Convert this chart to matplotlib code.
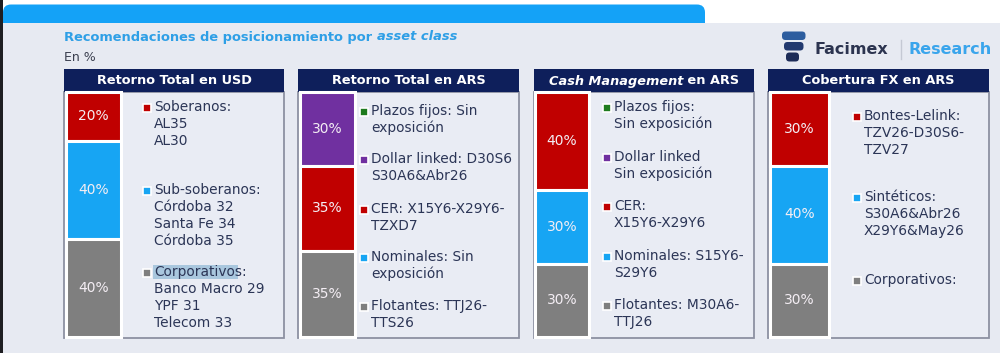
import matplotlib
matplotlib.use("Agg")
import matplotlib.pyplot as plt
from matplotlib.patches import Rectangle, FancyBboxPatch

# ---------------- data ----------------
panel_titles = ["Retorno Total en USD", "Retorno Total en ARS",
                "Cash Management en ARS", "Cobertura FX en ARS"]

usd_values = [20, 40, 40]
ars_values = [30, 35, 35]
cash_values = [40, 30, 30]
fx_values = [30, 40, 30]

RED, BLUE, GRAY, PURPLE, GREEN = "#c00000", "#17a5f3", "#7f7f7f", "#7030a0", "#1e7b1e"
usd_colors = [RED, BLUE, GRAY]
ars_colors = [PURPLE, RED, GRAY]
cash_colors = [RED, BLUE, GRAY]
fx_colors = [RED, BLUE, GRAY]

usd_legend = [("Soberanos:", ["AL35", "AL30"], RED),
              ("Sub-soberanos:", ["Córdoba 32", "Santa Fe 34", "Córdoba 35"], BLUE),
              ("Corporativos:", ["Banco Macro 29", "YPF 31", "Telecom 33"], GRAY)]
ars_legend = [("Plazos fijos: Sin", ["exposición"], GREEN),
              ("Dollar linked: D30S6", ["S30A6&Abr26"], PURPLE),
              ("CER: X15Y6-X29Y6-", ["TZXD7"], RED),
              ("Nominales: Sin", ["exposición"], BLUE),
              ("Flotantes: TTJ26-", ["TTS26"], GRAY)]
cash_legend = [("Plazos fijos:", ["Sin exposición"], GREEN),
               ("Dollar linked", ["Sin exposición"], PURPLE),
               ("CER:", ["X15Y6-X29Y6"], RED),
               ("Nominales: S15Y6-", ["S29Y6"], BLUE),
               ("Flotantes: M30A6-", ["TTJ26"], GRAY)]
fx_legend = [("Bontes-Lelink:", ["TZV26-D30S6-", "TZV27"], RED),
             ("Sintéticos:", ["S30A6&Abr26", "X29Y6&May26"], BLUE),
             ("Corporativos:", [], GRAY)]

# ---------------- layout (pixels) ----------------
W, H = 1000, 353
BG = "#e7eaf2"
NAVY = "#0e1f5b"
TXT = "#2b3556"

panels = [
    dict(x0=64, x1=284, bx0=66, bx1=121, tx=154, ys=[107, 190, 272],
         values=usd_values, colors=usd_colors, legend=usd_legend),
    dict(x0=298, x1=519, bx0=300, bx1=355, tx=371, ys=[111, 159, 209, 257, 306],
         values=ars_values, colors=ars_colors, legend=ars_legend),
    dict(x0=534, x1=754, bx0=535, bx1=589, tx=614, ys=[107, 157, 206, 256, 305],
         values=cash_values, colors=cash_colors, legend=cash_legend),
    dict(x0=768, x1=989, bx0=770, bx1=829, tx=864, ys=[116, 197, 280],
         values=fx_values, colors=fx_colors, legend=fx_legend),
]
HEAD_Y0, HEAD_Y1 = 69, 92
BAR_Y0, BAR_Y1 = 92, 337
LINE = 16.9
LEG_FS = 9.9

fig = plt.figure(figsize=(W / 100, H / 100), dpi=100)
fig.patch.set_facecolor(BG)
bg = fig.add_axes([0, 0, 1, 1])
bg.set_xlim(0, W)
bg.set_ylim(H, 0)
bg.axis("off")
bg.set_facecolor(BG)

# top white strip + blue band + left dark strip
bg.add_patch(Rectangle((0, 0), W, 23, facecolor="white", edgecolor="none", zorder=0))
bg.add_patch(FancyBboxPatch((3, 4.5), 702, 30, boxstyle="round,pad=0,rounding_size=8",
                            facecolor="#14a2f7", edgecolor="none", zorder=1))
bg.add_patch(Rectangle((0, 23), W, H - 23, facecolor=BG, edgecolor="none", zorder=1.5))
bg.add_patch(Rectangle((0, 0), 3, H, facecolor="#1e1e22", edgecolor="none", zorder=2))

fig.canvas.draw()
renderer = fig.canvas.get_renderer()


def px_width(t):
    bb = t.get_window_extent(renderer=renderer)
    return bb.width


# title (two pieces)
TITLE_BLUE = "#2e9fe6"
t1 = bg.text(64, 37, "Recomendaciones de posicionamiento por ", fontsize=9.4,
             fontweight="bold", color=TITLE_BLUE, va="center", ha="left", zorder=5)
w1 = px_width(t1)
bg.text(64 + w1, 37, "asset class", fontsize=9.4, fontweight="bold", style="italic",
        color=TITLE_BLUE, va="center", ha="left", zorder=5)
bg.text(64, 57.5, "En %", fontsize=9, color="#3a3f4f", va="center", ha="left", zorder=5)

# logo
bg.add_patch(FancyBboxPatch((782, 31.5), 23.5, 8.5, boxstyle="round,pad=0,rounding_size=3.5",
                            facecolor="#2d5d9f", edgecolor="none", zorder=5))
bg.add_patch(FancyBboxPatch((784, 42), 19.5, 8.5, boxstyle="round,pad=0,rounding_size=3.5",
                            facecolor="#22396f", edgecolor="none", zorder=5))
bg.add_patch(FancyBboxPatch((786, 52.5), 13, 9, boxstyle="round,pad=0,rounding_size=3.5",
                            facecolor="#1d2c58", edgecolor="none", zorder=5))
bg.text(814, 49, "Facimex", fontsize=11.5, fontweight="bold", color="#2c3450",
        va="center", ha="left", zorder=5)
bg.plot([901, 901], [40, 59], color="#c5c9d4", lw=1, zorder=5)
bg.text(909, 49, "Research", fontsize=11.5, fontweight="bold", color="#3aa5ec",
        va="center", ha="left", zorder=5)

# panels
for pi, p in enumerate(panels):
    x0, x1 = p["x0"], p["x1"]
    # box
    bg.add_patch(Rectangle((x0, HEAD_Y1), x1 - x0, 338 - HEAD_Y1, facecolor="#e9ecf4",
                           edgecolor="#8d91a2", lw=1.3, zorder=3))
    # header
    bg.add_patch(Rectangle((x0, HEAD_Y0), x1 - x0, HEAD_Y1 - HEAD_Y0, facecolor=NAVY,
                           edgecolor="none", zorder=4))
    cx = (x0 + x1) / 2
    cy = (HEAD_Y0 + HEAD_Y1) / 2 + 0.5
    title = panel_titles[pi]
    if title.startswith("Cash Management"):
        ta = bg.text(0, cy, "Cash Management", fontsize=9.3, fontweight="bold",
                     style="italic", color="white", va="center", ha="left", zorder=5)
        tb = bg.text(0, cy, " en ARS", fontsize=9.3, fontweight="bold",
                     color="white", va="center", ha="left", zorder=5)
        wa, wb = px_width(ta), px_width(tb)
        start = cx - (wa + wb) / 2
        ta.set_x(start)
        tb.set_x(start + wa)
    else:
        bg.text(cx, cy, title, fontsize=9.3, fontweight="bold", color="white",
                va="center", ha="center", zorder=5)

    # legend entries
    for (head, rest, col), y in zip(p["legend"], p["ys"]):
        tx = p["tx"]
        bg.plot([tx - 7.5], [y + 0.5], marker="s", ms=5.5, mfc=col, mec="white",
                mew=1.2, zorder=6)
        if pi == 0 and head == "Corporativos:":
            bg.add_patch(Rectangle((tx - 1, y - 7), 85, 14, facecolor="#a9c7de",
                                   edgecolor="none", zorder=4.5))
        bg.text(tx, y, head, fontsize=LEG_FS, color=TXT, va="center", ha="left", zorder=6)
        for k, line in enumerate(rest):
            bg.text(tx, y + LINE * (k + 1), line, fontsize=LEG_FS, color=TXT,
                    va="center", ha="left", zorder=6)

    # stacked bar
    bx0, bx1 = p["bx0"], p["bx1"]
    ax = fig.add_axes([bx0 / W, (H - BAR_Y1) / H, (bx1 - bx0) / W, (BAR_Y1 - BAR_Y0) / H])
    ax.set_xlim(-0.5, 0.5)
    ax.set_ylim(100, 0)
    ax.axis("off")
    bottom = 0
    for v, c in zip(p["values"], p["colors"]):
        ax.bar([0], [v], bottom=[bottom], width=1.0, color=c, edgecolor="white",
               linewidth=2.2, clip_on=False)
        ax.text(0, bottom + v / 2, f"{v}%", fontsize=10, color="#f4eef4",
                ha="center", va="center")
        bottom += v

fig.savefig("out.png", dpi=100, facecolor=BG)
